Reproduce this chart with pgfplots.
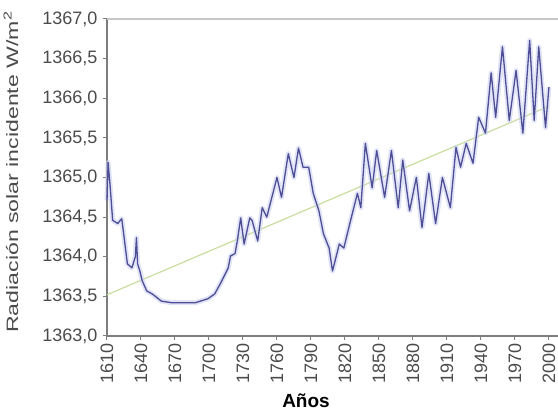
\documentclass[border=0pt]{standalone}
\usepackage{pgfplots}
\pgfplotsset{compat=1.18}
\usepackage{pgfplotstable}
\usepackage{fontspec}
\setmainfont{Liberation Sans}
\definecolor{tickgray}{RGB}{75,75,75}
\definecolor{axgray}{RGB}{125,125,125}
\definecolor{topgray}{RGB}{200,200,200}
\definecolor{solar}{RGB}{78,78,150}
\definecolor{halo}{RGB}{205,210,240}
\definecolor{trend}{RGB}{200,222,160}
\pgfplotstableread{
x y
1610 1364.71
1611 1365.19
1612.6 1364.92
1615 1364.46
1619.5 1364.42
1623 1364.48
1624 1364.37
1628 1363.91
1632 1363.86
1635 1364.0
1636 1364.24
1637 1363.91
1639 1363.82
1641 1363.70
1645 1363.57
1650 1363.53
1658 1363.44
1667 1363.42
1688 1363.42
1699 1363.47
1705 1363.53
1710 1363.66
1717 1363.86
1719 1364.01
1723 1364.04
1725 1364.20
1728 1364.49
1731 1364.16
1736 1364.49
1738 1364.46
1743 1364.20
1747 1364.62
1751 1364.50
1760 1365.00
1764 1364.75
1770 1365.30
1775 1365.00
1779 1365.37
1783 1365.13
1788 1365.13
1792 1364.80
1797 1364.58
1801 1364.29
1806 1364.11
1809 1363.82
1815 1364.16
1819 1364.11
1825 1364.46
1831 1364.80
1834 1364.62
1838 1365.43
1844 1364.87
1848 1365.34
1855 1364.75
1861 1365.34
1867 1364.62
1871 1365.22
1877 1364.58
1883 1365.00
1888 1364.37
1894 1365.05
1900 1364.42
1906 1365.00
1913 1364.62
1918 1365.38
1922 1365.13
1927 1365.43
1933 1365.18
1938 1365.76
1944 1365.56
1949 1366.32
1953 1365.76
1959 1366.65
1965 1365.72
1971 1366.35
1977 1365.56
1983 1366.73
1987 1365.72
1991 1366.65
1997 1365.63
2000 1366.14
}\solardata
\begin{document}
\begin{tikzpicture}[x=1pt,y=1pt]
\useasboundingbox (0,0) rectangle (558,413);
\begin{axis}[
  at={(107pt,77pt)}, anchor=south west,
  scale only axis, width=451pt, height=317pt,
  xmin=1610, xmax=2008, ymin=1363, ymax=1367,
  axis x line*=bottom, axis y line*=left,
  axis line style={axgray, line width=1.6pt},
  tick style={axgray, line width=1pt},
  major tick length=4pt, tick align=outside,
  xtick={1610,1640,1670,1700,1730,1760,1790,1820,1850,1880,1910,1940,1970,2000},
  ytick={1363,1363.5,1364,1364.5,1365,1365.5,1366,1366.5,1367},
  /pgf/number format/assume math mode=true,
  xticklabel style={rotate=90, anchor=east, inner ysep=1pt, font=\fontsize{18}{18}\selectfont, text=tickgray,
    /pgf/number format/1000 sep={}},
  yticklabel style={font=\fontsize{18}{18}\selectfont, text=tickgray, xshift=-2pt,
    /pgf/number format/.cd, fixed, fixed zerofill, precision=1, use comma, 1000 sep={}},
  clip=false,
]
\addplot[trend, line width=1.2pt] coordinates {(1610,1363.52) (2000,1365.9)};
\addplot[halo, opacity=0.6, line width=5pt, line join=round] table {\solardata};
\addplot[solar, line width=1.3pt, line join=round] table {\solardata};
\draw[topgray, line width=2.5pt] (rel axis cs:0,1) -- (rel axis cs:1.05,1);
\end{axis}
\node[rotate=90, anchor=base, text=tickgray] at (18,241)
  {\scalebox{1.4}[1]{\fontsize{16.5}{16.5}\selectfont Radiación solar incidente W/m\textsuperscript{2}}};
\node[anchor=base, inner sep=0pt, font=\bfseries\fontsize{19}{19}\selectfont] at (306,5) {Años};
\end{tikzpicture}
\end{document}
